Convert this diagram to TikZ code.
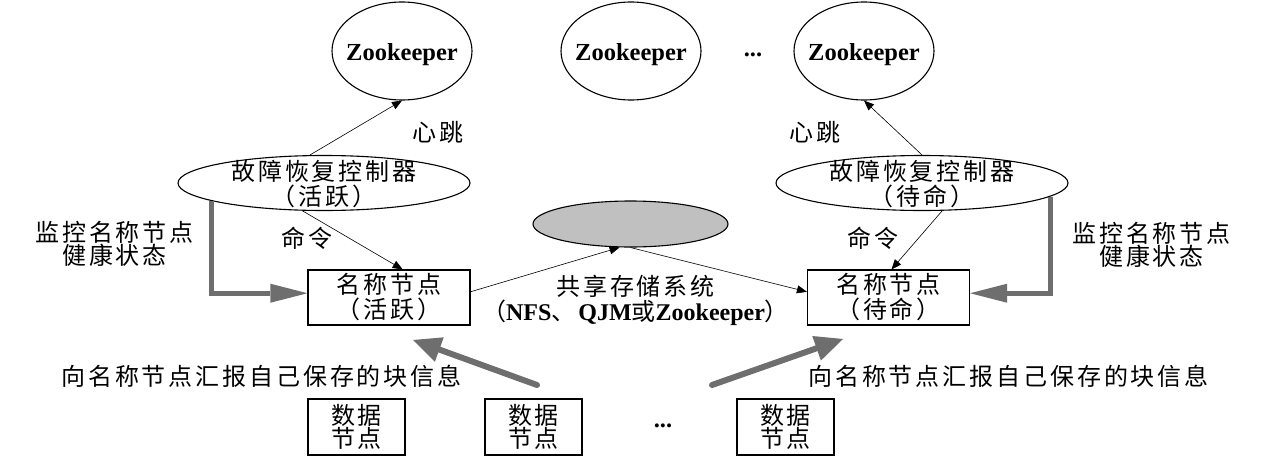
\documentclass[tikz,border=0pt]{standalone}
\usepackage{fontspec}
\setmainfont{Liberation Serif}
\newfontfamily\cjk[LetterSpace=12]{Noto Sans CJK SC}
\usetikzlibrary{arrows.meta,shapes.geometric}
\definecolor{arrgray}{HTML}{6E6E6E}
\definecolor{ssgray}{HTML}{C0C0C0}
\newcommand\latb[1]{{\rmfamily\bfseries #1}}
\begin{document}
\begin{tikzpicture}[x=1pt,y=-1pt,
  cjkt/.style={font=\cjk\fontsize{24}{25}\selectfont, inner sep=0pt, align=center},
  cjkn/.style={font=\cjk\fontsize{24}{23}\selectfont, inner sep=0pt, align=center},
  lat/.style={font=\rmfamily\bfseries\fontsize{24.5}{25}\selectfont, inner sep=0pt},
  latdots/.style={font=\rmfamily\bfseries\fontsize{24.5}{25}\selectfont, inner sep=0pt},
  zk/.style={draw, line width=1.1pt, ellipse, minimum width=140pt, minimum height=98pt, inner sep=0pt},
  fcell/.style={draw, line width=1.1pt, ellipse, minimum width=292pt, minimum height=55pt, inner sep=0pt},
  sscell/.style={draw, line width=1.1pt, fill=ssgray, ellipse, minimum width=195pt, minimum height=46pt, inner sep=0pt},
  nnbox/.style={draw, line width=1.1pt, rectangle, minimum width=162pt, minimum height=55pt, inner sep=0pt, font=\cjk\fontsize{24}{25}\selectfont, align=center},
  dnbox/.style={draw, line width=1.1pt, rectangle, minimum width=97pt, minimum height=56pt, inner sep=0pt, font=\cjk\fontsize{24}{23}\selectfont, align=center},
  thinarr/.style={line width=0.6pt, -{Triangle[length=10pt,width=8pt]}},
  monarr/.style={draw=arrgray, line width=5pt, line join=miter, -{Triangle[length=37pt,width=19pt,line width=0pt]}},
  datarr/.style={draw=arrgray, line width=6pt, line cap=round, -{Triangle[length=28pt,width=26pt,line width=0pt]}}
]
\fill[white] (0,0) rectangle (1264,466);
\useasboundingbox (0,0) rectangle (1264,466);

% Zookeeper ensemble
\node[zk] (zk1) at (402,51) {};
\node[lat, anchor=base] (zk1t) at ([yshift=-9pt]zk1.center) {Zookeeper};
\node[zk] (zk2) at (631,51) {};
\node[lat, anchor=base] (zk2t) at ([yshift=-9pt]zk2.center) {Zookeeper};
\node[zk] (zk3) at (864,51) {};
\node[lat, anchor=base] (zk3t) at ([yshift=-9pt]zk3.center) {Zookeeper};
\node[latdots] (dotstop) at (753,55) {...};

% failover controllers
\node[fcell] (fc1) at (324,183) {};
\node[cjkt] (fc1t) at (324,184.5) {故障恢复控制器\\（活跃）};
\node[fcell] (fc2) at (922,183) {};
\node[cjkt] (fc2t) at (922,184.5) {故障恢复控制器\\（待命）};

% shared storage
\node[sscell] (ss) at (630.5,224) {};
\node[cjkt] (sst) at (635.5,300.5) {共享存储系统\\（\latb{NFS}、\hspace{3pt}\latb{QJM}或\latb{Zookeeper}）};

% name nodes
\node[nnbox] (nn1) at (389,297.5) {名称节点\\（活跃）};
\node[nnbox] (nn2) at (888.5,297.5) {名称节点\\（待命）};

% data nodes
\node[dnbox] (dn1) at (356.5,427) {数据\\节点};
\node[dnbox] (dn2) at (533.5,427) {数据\\节点};
\node[latdots] (dotsbot) at (663,426) {...};
\node[dnbox] (dn3) at (785.5,427) {数据\\节点};

% labels
\node[cjkt] (hb1) at (438,132) {心跳};
\node[cjkt] (hb2) at (815,132) {心跳};
\node[cjkt] (cmd1) at (307,238) {命令};
\node[cjkt] (cmd2) at (873,238) {命令};
\node[cjkn] (mon1) at (114.5,243.5) {监控名称节点\\健康状态};
\node[cjkn] (mon2) at (1151.5,244.5) {监控名称节点\\健康状态};
\node[cjkt] (rep1) at (261.5,376) {向名称节点汇报自己保存的块信息};
\node[cjkt] (rep2) at (1008.5,376) {向名称节点汇报自己保存的块信息};

% heartbeat arrows
\draw[thinarr] (fc1.117) -- (zk1.south);
\draw[thinarr] (fc2.north) -- (zk3.south);
% command arrows
\draw[thinarr] (fc1.232) -- (nn1.64);
\draw[thinarr] (fc2.306) -- (nn2.84);
% shared storage connections
\draw[thinarr] (nn1.4) -- (ss.245);
\draw[thinarr] (ss.south) -- (nn2.176);
% health monitoring
\draw[monarr] (fc1.189) |- (nn1.177);
\draw[monarr] (fc2.354) |- (nn2.3);
% block reports
\coordinate (rt1) at (537,385);
\coordinate (rh1) at (413,340);
\coordinate (rt2) at (712,385);
\coordinate (rh2) at (843,339);
\draw[datarr] (rt1) -- (rh1);
\draw[datarr] (rt2) -- (rh2);
\end{tikzpicture}
\end{document}
